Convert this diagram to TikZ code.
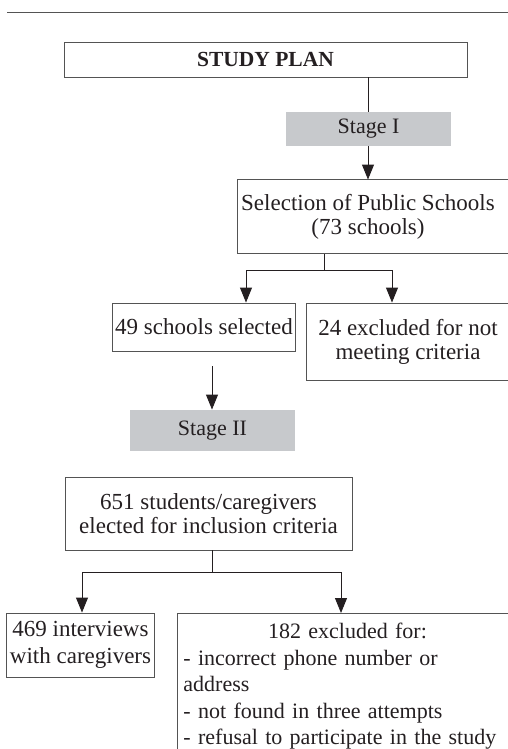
\documentclass[tikz,border=0pt]{standalone}
\usepackage{fontspec}
\setmainfont{Liberation Serif}
\usetikzlibrary{arrows.meta,positioning}
\definecolor{ink}{rgb}{0.14, 0.12, 0.13}
\definecolor{frame gray}{rgb}{0.33, 0.33, 0.33}
\definecolor{stage gray}{rgb}{0.78, 0.79, 0.8}

\begin{document}
\begin{tikzpicture}[x=1pt, y=-1pt, line width=0.9pt,
	box/.style={draw=frame gray, text=ink, inner sep=3pt, align=center,
		font=\fontsize{23}{24}\selectfont},
	stagebox/.style={fill=stage gray, text=ink, inner sep=0pt,
		font=\fontsize{22}{24}\selectfont},
	link/.style={draw=ink, -{Triangle[length=15pt, width=12pt]}},
	stemline/.style={draw=ink}]
			\useasboundingbox (0, 0) rectangle (508, 749);
			\clip (0, 0) rectangle (508, 749);
			% rule on top
			\draw[frame gray] (7, 12) -- (508, 12);
			% part for stage I
			\begin{scope}
				\node[box, minimum width=403, minimum height=35,
					font=\fontsize{21.5}{24}\selectfont\bfseries] (plan) at (265.5, 59.5) {STUDY PLAN};
				\node[box, draw=none, minimum width=252, minimum height=74] (sel) at (368, 217)
					{Selection of Public Schools\\(73 schools)};
				\draw[frame gray] (sel.north west) rectangle ++(290, 74);
				\draw[link] (plan.south -| sel) -- (sel.north);
				\node[stagebox, minimum width=165, minimum height=34] (stageA) at (368.5, 129) {Stage I};
				\node[box, minimum width=182, minimum height=48] (keep) at (204, 327) {49 schools selected};
				\node[box, minimum width=204, minimum height=77] (drop) at (408, 341.5)
					{24 excluded for not\\meeting criteria};
				\coordinate (fork1) at (324, 270);
				\coordinate (fork1L) at (246, 270);
				\coordinate (fork1R) at (392, 270);
				\draw[stemline] (sel.south -| fork1) -- (fork1);
				\draw[link] (fork1) -- (fork1L) -- (fork1L |- keep.north);
				\draw[link] (fork1) -- (fork1R) -- (fork1R |- drop.north);
			\end{scope}
			% part for stage II
			\begin{scope}
				\node[stagebox, minimum width=165, minimum height=41] (stageB) at (212.5, 430.5) {Stage II};
				\coordinate (drop2) at (212, 366);
				\draw[link] (drop2) -- (drop2 |- stageB.north);
				\node[box, minimum width=287, minimum height=73] (pool) at (208.5, 513.5)
					{651 students/caregivers\\elected for inclusion criteria};
				\node[box, minimum width=147, minimum height=64,
					font=\fontsize{23}{27}\selectfont] (done) at (80.5, 645)
					{469 interviews\\with caregivers};
				\node[box, anchor=north west, align=left, text width=345, inner xsep=6pt, inner ysep=10pt,
					font=\fontsize{22}{26.5}\selectfont] (lost) at (177, 613)
					{\makebox[328pt]{182 excluded for:}\\- incorrect phone number or\\address\\
					- not found in three attempts\\- refusal to participate in the study};
				\coordinate (fork2) at (212, 572);
				\coordinate (fork2L) at (82, 572);
				\coordinate (fork2R) at (341, 572);
				\draw[stemline] (pool.south -| fork2) -- (fork2);
				\draw[link] (fork2) -- (fork2L) -- (fork2L |- done.north);
				\draw[link] (fork2) -- (fork2R) -- (fork2R |- lost.north);
			\end{scope}
		\end{tikzpicture}
\end{document}
